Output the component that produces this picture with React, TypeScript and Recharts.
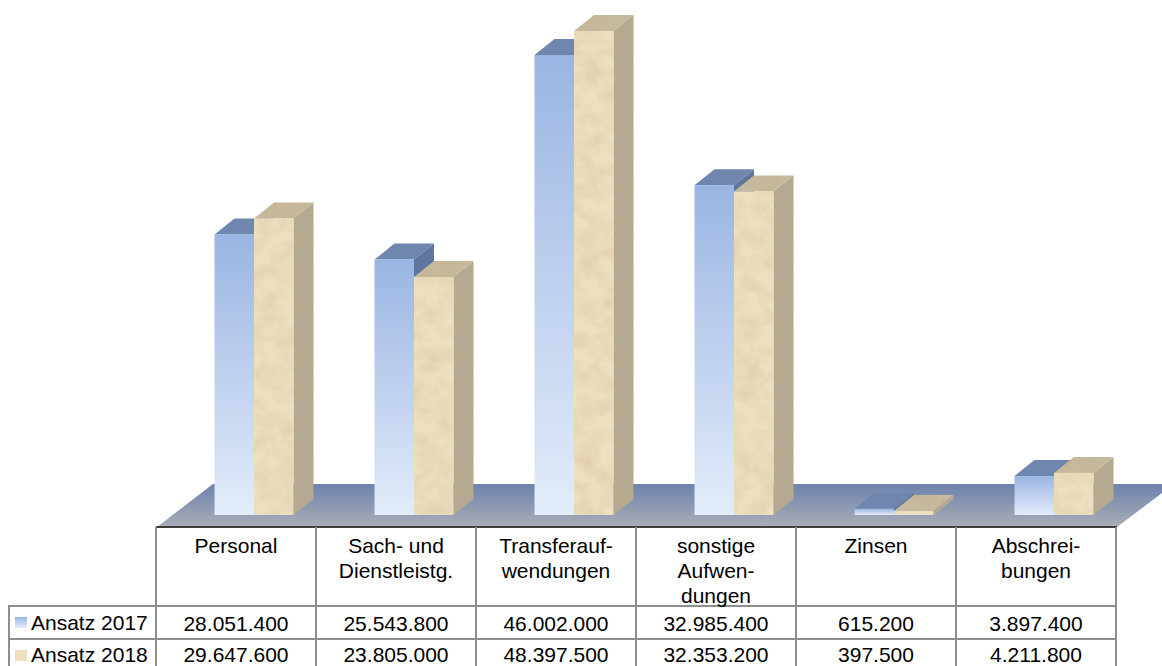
import { Bar, BarChart, XAxis, YAxis } from "recharts";

const categories = ["Personal", "Sach- und\nDienstleistg.", "Transferauf-\nwendungen", "sonstige\nAufwen-\ndungen", "Zinsen", "Abschrei-\nbungen"];
const ansatz2017 = [28051400, 25543800, 46002000, 32985400, 615200, 3897400];
const ansatz2018 = [29647600, 23805000, 48397500, 32353200, 397500, 4211800];
const seriesNames = ["Ansatz 2017", "Ansatz 2018"];

const rows = categories.map((category, i) => ({
  category,
  a2017: ansatz2017[i],
  a2018: ansatz2018[i],
}));

const WIDTH = 1162;
const HEIGHT = 666;
const DEPTH_X = 20;
const DEPTH_Y = 16;
const GRID = "#8e8e8e";
const FONT = "'Liberation Sans', Arial, sans-serif";

const formatValue = (v: number) => String(v).replace(/\B(?=(\d{3})+$)/g, ".");

function Box({ x, y, width, height, front, top, side, textured }: any) {
  const r = x + width;
  const b = y + height;
  const filter = textured ? "url(#marble)" : undefined;
  return (
    <g>
      <polygon points={`${x},${y} ${x + DEPTH_X},${y - DEPTH_Y} ${r + DEPTH_X},${y - DEPTH_Y} ${r},${y}`} fill={top} filter={filter} />
      <polygon points={`${r},${y} ${r + DEPTH_X},${y - DEPTH_Y} ${r + DEPTH_X},${b - DEPTH_Y} ${r},${b}`} fill={side} filter={filter} />
      <rect x={x} y={y} width={width} height={height} fill={front} filter={filter} />
    </g>
  );
}

const BlueBox = (props: any) => <Box {...props} front="url(#blueFront)" top="#6f87ae" side="#5f779f" />;
const SandBox = (props: any) => <Box {...props} front="#eddfc0" top="#c6ba9e" side="#b4aa92" textured />;

// category label, column rule and the two value cells hang off each axis tick
function TableTick({ x, payload, index }: any) {
  const cx = x - 17.5;
  const lines = String(payload.value).split("\n");
  const left = cx - 80;
  return (
    <g fontFamily={FONT} fontSize={21} fill="#000" textAnchor="middle">
      <line x1={left} x2={left} y1={527} y2={HEIGHT} stroke={GRID} strokeWidth={2} />
      <line x1={left + 160} x2={left + 160} y1={527} y2={HEIGHT} stroke={GRID} strokeWidth={2} />
      {lines.map((line, i) => (
        <text key={line} x={cx} y={553 + i * 25}>{line}</text>
      ))}
      <text x={cx} y={631}>{formatValue(ansatz2017[index])}</text>
      <text x={cx} y={662}>{formatValue(ansatz2018[index])}</text>
    </g>
  );
}

function Backdrop() {
  return (
    <svg width={WIDTH} height={HEIGHT} style={{ position: "absolute", left: 0, top: 0 }}>
      <defs>
        <linearGradient id="floorFill" x1="0" y1="0" x2="0" y2="1">
          <stop offset="0%" stopColor="#6f82ad" />
          <stop offset="100%" stopColor="#a9aeb7" />
        </linearGradient>
        <linearGradient id="blueSwatch" x1="0" y1="0" x2="0" y2="1">
          <stop offset="0%" stopColor="#9ab5e3" />
          <stop offset="100%" stopColor="#e3ecf9" />
        </linearGradient>
      </defs>
      <polygon points="157,527 213,484 1174,484 1117,527" fill="url(#floorFill)" />
      <line x1={156} x2={1117} y1={527} y2={527} stroke="#3c3c3c" strokeWidth={2} />
      <line x1={8} x2={1117} y1={606} y2={606} stroke={GRID} strokeWidth={2} />
      <line x1={8} x2={1117} y1={639} y2={639} stroke={GRID} strokeWidth={2} />
      <line x1={9} x2={9} y1={606} y2={HEIGHT} stroke={GRID} strokeWidth={2} />
      <rect x={15} y={617} width={12} height={11} fill="url(#blueSwatch)" />
      <rect x={15} y={650} width={12} height={11} fill="#eddfc0" />
      {seriesNames.map((name, i) => (
        <text key={name} x={31} y={630 + i * 32} fontFamily={FONT} fontSize={21} fill="#000">{name}</text>
      ))}
    </svg>
  );
}

export default function App() {
  return (
    <div style={{ position: "absolute", left: 0, top: 0, width: WIDTH, height: HEIGHT, overflow: "hidden", background: "#fff" }}>
      <Backdrop />
      <div style={{ position: "absolute", left: 0, top: 0 }}>
        <BarChart
          width={WIDTH}
          height={HEIGHT}
          data={rows}
          margin={{ top: 15, right: 28.5, bottom: 0, left: 173.5 }}
          barSize={39.5}
          barGap={0}
        >
          <defs>
            <linearGradient id="blueFront" x1="0" y1="0" x2="0" y2="1">
              <stop offset="0%" stopColor="#9ab5e3" />
              <stop offset="100%" stopColor="#e3ecf9" />
            </linearGradient>
            <filter id="marble" x="0" y="0" width="1" height="1" colorInterpolationFilters="sRGB">
              <feTurbulence type="fractalNoise" baseFrequency="0.05 0.06" numOctaves="3" seed="7" result="noise" />
              <feColorMatrix
                in="noise"
                type="matrix"
                values="0 0 0 0 0.76  0 0 0 0 0.68  0 0 0 0 0.5  0.55 0 0 0 -0.2"
                result="tint"
              />
              <feComposite in="tint" in2="SourceAlpha" operator="in" result="clipped" />
              <feMerge>
                <feMergeNode in="SourceGraphic" />
                <feMergeNode in="clipped" />
              </feMerge>
            </filter>
          </defs>
          <XAxis
            dataKey="category"
            axisLine={false}
            tickLine={false}
            interval={0}
            height={151}
            tick={<TableTick />}
          />
          <YAxis hide domain={[0, 50000000]} />
          <Bar dataKey="a2017" name={seriesNames[0]} shape={BlueBox} isAnimationActive={false} />
          <Bar dataKey="a2018" name={seriesNames[1]} shape={SandBox} isAnimationActive={false} />
        </BarChart>
      </div>
    </div>
  );
}
